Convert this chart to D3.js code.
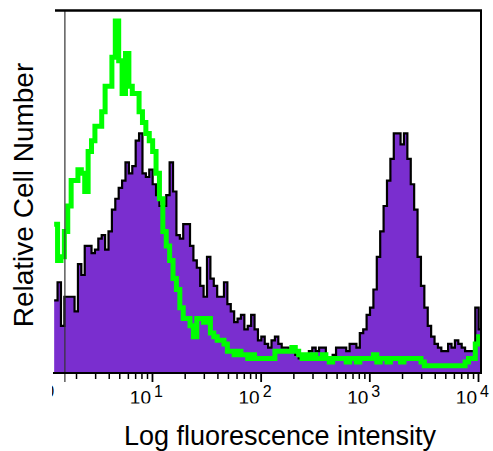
<!DOCTYPE html>
<html>
<head>
<meta charset="utf-8">
<script src="https://cdn.jsdelivr.net/npm/d3@7"></script>
<style>
  body { margin: 0; background: #fff; }
  svg { display: block; font-family: "Liberation Sans", Arial, sans-serif; }
</style>
</head>
<body>
<div id="histogram"></div>
<script>
// kanalen: eerste bin begint op log10 = 0.1, elke bin is 1/32 decade breed
var startLog = 0.1;
var binBreedte = 1 / 32;

// gekleurde (paarse) meting, aantal cellen per bin
var paars = [20, 25, 13, 21, 21, 21, 17, 30, 27, 35, 35, 33, 34, 37, 38, 34,
  39, 45, 48, 51, 53, 58, 55, 57, 64, 66, 55, 54, 56, 52, 49, 46,
  46, 49, 58, 50, 38, 37, 41, 41, 35, 31, 29, 24, 21, 32, 26, 24,
  21, 21, 25, 19, 17, 14, 15, 16, 12, 13, 16, 12, 9, 10, 8, 7,
  9, 10, 8, 7, 7, 6, 6, 5, 4, 5, 5, 6, 7, 6, 7, 7,
  4, 4, 5, 7, 7, 7, 6, 8, 8, 7, 11, 12, 16, 18, 23, 32,
  39, 46, 53, 59, 66, 66, 63, 66, 59, 52, 45, 32, 24, 18, 13, 10,
  8, 7, 6, 6, 8, 7, 9, 8, 7, 6, 6, 6, 18, 12];

// isotype controle (groene lijn)
var groen = [41, 31, 32, 39, 46, 53, 53, 56, 55, 50, 61, 64, 68, 68, 72, 79,
  79, 87, 97, 86, 77, 88, 79, 77, 77, 72, 69, 66, 64, 61, 55, 48,
  39, 35, 31, 26, 23, 18, 15, 15, 13, 10, 15, 15, 14, 15, 11, 10,
  9, 9, 8, 6, 6, 5, 6, 5, 5, 4, 5, 4, 4, 4, 4, 4,
  4, 6, 6, 6, 6, 6, 7, 6, 5, 4, 5, 4, 5, 4, 4, 5,
  4, 3, 4, 4, 4, 4, 3, 4, 4, 3, 4, 4, 4, 4, 5, 3,
  4, 4, 3, 4, 4, 4, 3, 4, 4, 4, 4, 4, 3, 2, 2, 2,
  2, 2, 2, 2, 2, 2, 2, 2, 2, 3, 4, 4, 8, 10];

// asverdeling
var decaden = [1, 10, 100, 1000, 10000];
var exponenten = ["0", "1", "2", "3", "4"];
var nulLijn = 1.58;

var breedte = 493;
var hoogte = 451;
var links = 53, rechts = 481, boven = 10, onder = 373;

var svg = d3.select("#histogram")
    .append("svg")
    .attr("width", breedte)
    .attr("height", hoogte);

// schalen
var x = d3.scaleLog()
    .domain([1, 10000])
    .range([43.3, 478]);

var y = d3.scaleLinear()
    .domain([0, 100])
    .range([onder, boven]);

// maak stappunten van de bins (laatste rand erbij)
function maakStappen(waarden) {
  var punten = waarden.map(function(v, i) {
    return { x: Math.pow(10, startLog + i * binBreedte), y: v };
  });
  punten.push({ x: Math.pow(10, startLog + waarden.length * binBreedte), y: waarden[waarden.length - 1] });
  return punten;
}

var defs = svg.append("defs");
defs.append("clipPath").attr("id", "plotclip")
  .append("rect")
    .attr("x", links).attr("y", boven - 2)
    .attr("width", rechts - links).attr("height", onder - boven + 2);
defs.append("clipPath").attr("id", "asclip")
  .append("rect")
    .attr("x", 52).attr("y", onder)
    .attr("width", breedte - 52).attr("height", 403.5 - onder);

var plot = svg.append("g").attr("clip-path", "url(#plotclip)");

// paarse gevulde histogram met zwarte rand
var area = d3.area()
    .x(function(d) { return x(d.x); })
    .y0(y(0))
    .y1(function(d) { return y(d.y); })
    .curve(d3.curveStepAfter);

var lijn = d3.line()
    .x(function(d) { return x(d.x); })
    .y(function(d) { return y(d.y); })
    .curve(d3.curveStepAfter);

plot.append("path")
    .datum(maakStappen(paars))
    .attr("d", area)
    .style("fill", "#7a2ecf");

plot.append("path")
    .datum(maakStappen(paars))
    .attr("d", lijn)
    .style("fill", "none")
    .style("stroke", "#000")
    .style("stroke-width", 2.2);

// dunne nul lijn
svg.append("line")
    .attr("x1", x(nulLijn)).attr("x2", x(nulLijn))
    .attr("y1", boven).attr("y2", onder + 9)
    .style("stroke", "#333")
    .style("stroke-width", 1.2);

// groene controle lijn er overheen
plot.append("path")
    .datum(maakStappen(groen))
    .attr("d", lijn)
    .style("fill", "none")
    .style("stroke", "#00ff00")
    .style("stroke-width", 5)
    .style("stroke-linejoin", "miter");

// kader boven en rechts
svg.append("line")
    .attr("x1", links + 2).attr("x2", rechts + 1)
    .attr("y1", boven + 0.5).attr("y2", boven + 0.5)
    .style("stroke", "#000").style("stroke-width", 2.5);
svg.append("line")
    .attr("x1", rechts).attr("x2", rechts)
    .attr("y1", boven).attr("y2", onder)
    .style("stroke", "#000").style("stroke-width", 2);

// minor ticks
var minor = [];
decaden.slice(0, 4).forEach(function(d) {
  for (var k = 2; k <= 9; k++) { minor.push(d * k); }
});
minor = minor.filter(function(v) { return x(v) > links; });

var asGroep = svg.append("g")
    .attr("transform", "translate(0," + onder + ")");

asGroep.append("g")
    .call(d3.axisBottom(x).tickValues(minor).tickSize(6).tickFormat(""))
    .call(function(g) { g.select(".domain").remove(); })
    .selectAll("line").style("stroke-width", 1.5);

asGroep.append("g")
    .call(d3.axisBottom(x).tickValues(decaden.filter(function(v) { return x(v) > links; })).tickSize(9).tickFormat(""))
    .call(function(g) { g.select(".domain").remove(); })
    .selectAll("line").style("stroke-width", 1.8);

// as lijn
svg.append("line")
    .attr("x1", links).attr("x2", rechts + 1)
    .attr("y1", onder).attr("y2", onder)
    .style("stroke", "#000").style("stroke-width", 2.2);

// tick labels als 10 met exponent
var labels = svg.append("g").attr("clip-path", "url(#asclip)");

labels.selectAll(".basis")
    .data(decaden)
    .enter()
    .append("text")
    .attr("class", "basis")
    .attr("x", function(d) { return x(d) - 1; })
    .attr("y", 404)
    .attr("text-anchor", "end")
    .style("font-size", "19px")
    .text("10");

labels.selectAll(".expo")
    .data(decaden)
    .enter()
    .append("text")
    .attr("class", "expo")
    .attr("x", function(d) { return x(d) + 2; })
    .attr("y", 397)
    .style("font-size", "16px")
    .text(function(d, i) { return exponenten[i]; });

// as titels
svg.append("text")
    .attr("x", 280)
    .attr("y", 445)
    .attr("text-anchor", "middle")
    .style("font-size", "27px")
    .text("Log fluorescence intensity");

svg.append("text")
    .attr("transform", "translate(33,195) rotate(-90)")
    .attr("text-anchor", "middle")
    .style("font-size", "28px")
    .text("Relative Cell Number");
</script>
</body>
</html>
